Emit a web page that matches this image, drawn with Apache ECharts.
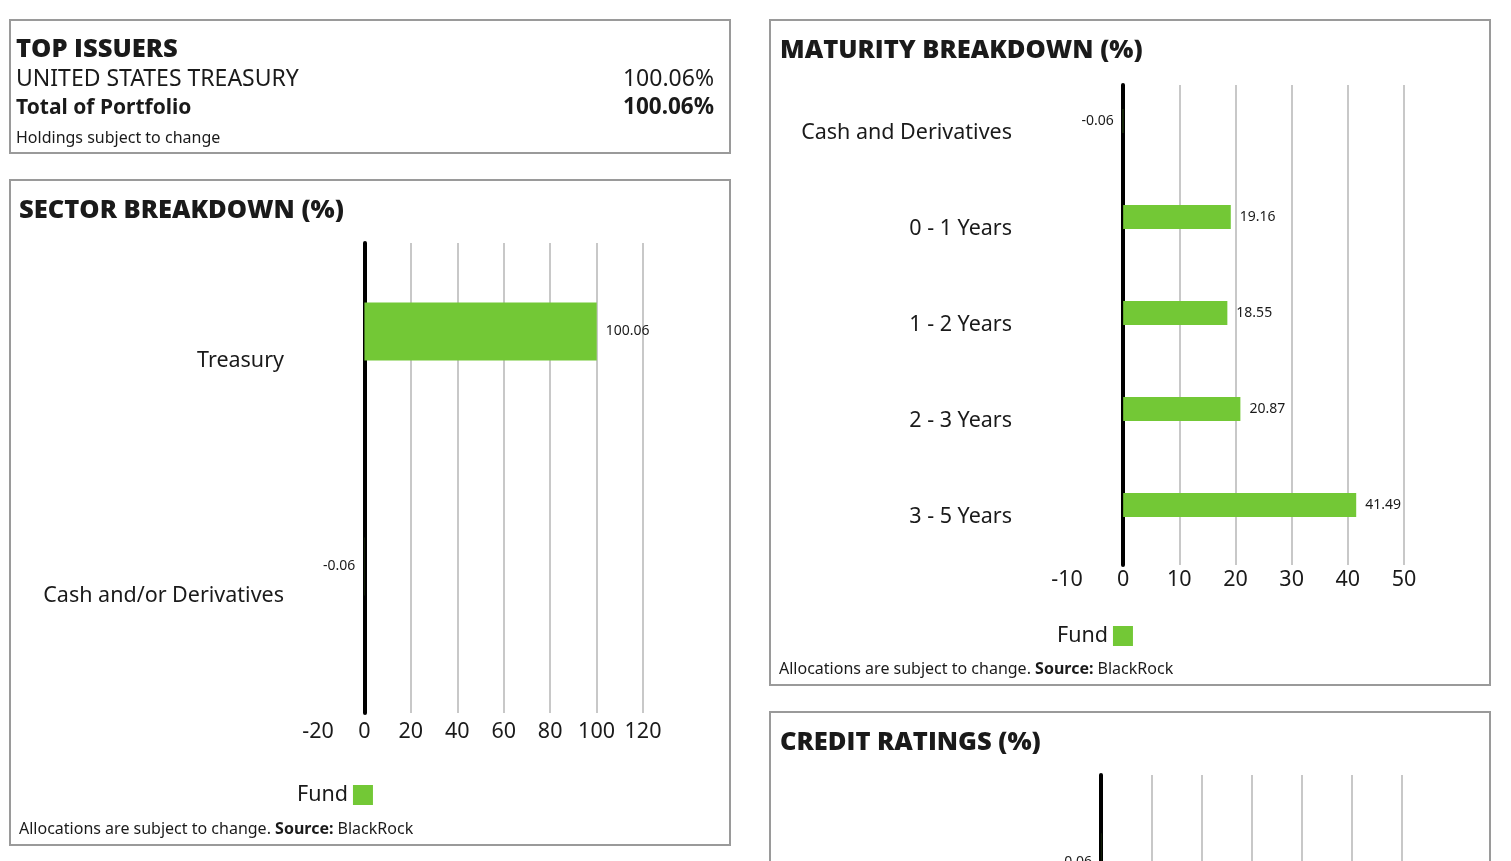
<!DOCTYPE html>
<html>
<head>
<meta charset="utf-8">
<script src="https://cdn.jsdelivr.net/npm/echarts@6/dist/echarts.min.js"></script>
<style>
html,body{margin:0;padding:0;overflow:hidden;background:#fff;}
#c{width:1511px;height:1400px;}
</style>
</head>
<body>
<div id="c"></div>
<script>
// ---- data ----
var issuerNames = ['UNITED STATES TREASURY'];
var issuerWeights = [100.06];
var portfolioTotal = 100.06;

var sectorCategories = ['Treasury', 'Cash and/or Derivatives'];
var sectorFund = [100.06, -0.06];
var sectorTicks = {min: -20, max: 120, interval: 20};

var maturityCategories = ['Cash and Derivatives', '0 - 1 Years', '1 - 2 Years', '2 - 3 Years', '3 - 5 Years'];
var maturityFund = [-0.06, 19.16, 18.55, 20.87, 41.49];
var maturityTicks = {min: -10, max: 50, interval: 10};

var creditCategories = ['Cash and/or Derivatives', 'AA'];
var creditFund = [-0.06, 100.06];
var creditTicks = {min: -20, max: 120, interval: 20};

// ---- styles ----
var GREEN = '#73c836';
var TXT = '#1a1a1a';
var BODY = 'Noto Sans';
var HEAD = 'Open Sans';

function fundData(vals) {
  return vals.map(function (v) {
    return {value: v, label: {position: v < 0 ? 'left' : 'right'}};
  });
}
function emptyData(vals) { return vals.map(function () { return null; }); }

var grids = [
  {left: 318, width: 325, top: 243, height: 470},
  {left: 1067, width: 337, top: 85, height: 480},
  {left: 1051, width: 351, top: 775, height: 465}
];
var ticks = [sectorTicks, maturityTicks, creditTicks];
var cats = [sectorCategories, maturityCategories, creditCategories];
var fund = [sectorFund, maturityFund, creditFund];
var catMargin = [34, 55, 34];
var valMargin = [8, 4, 8];
var barW = [58, 24, 58];

var xAxes = [], yAxes = [], series = [];
for (var i = 0; i < 3; i++) {
  xAxes.push({
    type: 'value', gridIndex: i, min: ticks[i].min, max: ticks[i].max, interval: ticks[i].interval,
    axisLine: {show: false}, axisTick: {show: false},
    splitLine: {show: true, showMinLine: false, lineStyle: {color: '#c8c8c8', width: 2}},
    axisLabel: {color: TXT, fontFamily: BODY, fontSize: 21.5, margin: valMargin[i]}
  });
  yAxes.push({
    type: 'category', gridIndex: i, data: cats[i], inverse: true,
    axisLine: {show: true, onZero: true, lineStyle: {color: '#000', width: 4}},
    axisTick: {show: false}, splitLine: {show: false},
    axisLabel: {color: TXT, fontFamily: BODY, fontSize: 21.5, margin: catMargin[i]}
  });
  series.push({
    name: 'Fund', type: 'bar', xAxisIndex: i, yAxisIndex: i,
    data: fundData(fund[i]), barWidth: barW[i], barGap: '0%',
    itemStyle: {color: GREEN},
    label: {show: true, color: TXT, fontFamily: BODY, fontSize: 14, distance: 9,
      formatter: function (p) { return p.value.toFixed(2); }}
  });
  series.push({
    name: 'Benchmark', type: 'bar', xAxisIndex: i, yAxisIndex: i,
    data: emptyData(fund[i]), barWidth: barW[i], barGap: '0%',
    itemStyle: {color: '#999'}
  });
}

function legendAt(left, top) {
  return {
    data: ['Fund'], left: left, top: top, align: 'right', icon: 'rect',
    itemWidth: 20, itemHeight: 20, selectedMode: false,
    textStyle: {color: TXT, fontFamily: BODY, fontSize: 21.5}
  };
}

function box(x, y, w, h) {
  return {type: 'rect', shape: {x: x, y: y, width: w, height: h},
    style: {fill: 'none', stroke: '#9a9a9a', lineWidth: 2}, silent: true};
}
function txt(x, y, s, opt) {
  opt = opt || {};
  return {type: 'text', x: x, y: y, silent: true,
    style: {text: s, fill: TXT, fontFamily: opt.family || BODY, fontSize: opt.size || 20,
      fontWeight: opt.weight || 'normal', textAlign: opt.align || 'left', textVerticalAlign: 'middle'}};
}
function heading(x, y, s) { return txt(x, y, s, {family: HEAD, size: 25.5, weight: 800}); }
function footer(x, y) {
  return {type: 'text', x: x, y: y, silent: true,
    style: {text: '{a|Allocations are subject to change. }{b|Source:}{a| BlackRock}',
      textVerticalAlign: 'middle',
      rich: {a: {fontFamily: BODY, fontSize: 16, fill: TXT, color: TXT},
             b: {fontFamily: BODY, fontSize: 16, fontWeight: 'bold', fill: TXT, color: TXT}}}};
}

var graphics = [
  box(10, 20, 720, 133),
  box(10, 180, 720, 665),
  box(770, 20, 720, 665),
  box(770, 712, 720, 665),
  heading(16, 50, 'TOP ISSUERS'),
  txt(16, 79, issuerNames[0], {size: 23}),
  txt(714, 79, issuerWeights[0].toFixed(2) + '%', {size: 23, align: 'right'}),
  txt(16, 108, 'Total of Portfolio', {size: 21, weight: 'bold'}),
  txt(714, 108, portfolioTotal.toFixed(2) + '%', {size: 22.5, weight: 'bold', align: 'right'}),
  txt(16, 138, 'Holdings subject to change', {size: 16}),
  heading(19, 211, 'SECTOR BREAKDOWN (%)'),
  heading(780, 51, 'MATURITY BREAKDOWN (%)'),
  heading(780, 743, 'CREDIT RATINGS (%)'),
  footer(19, 829),
  footer(779, 669)
];

var chart = echarts.init(document.getElementById('c'), null, {renderer: 'canvas'});
chart.setOption({
  animation: false,
  grid: grids,
  xAxis: xAxes,
  yAxis: yAxes,
  legend: [legendAt(292, 779), legendAt(1052, 620), legendAt(1052, 1300)],
  series: series,
  graphic: graphics
});
</script>
</body>
</html>
